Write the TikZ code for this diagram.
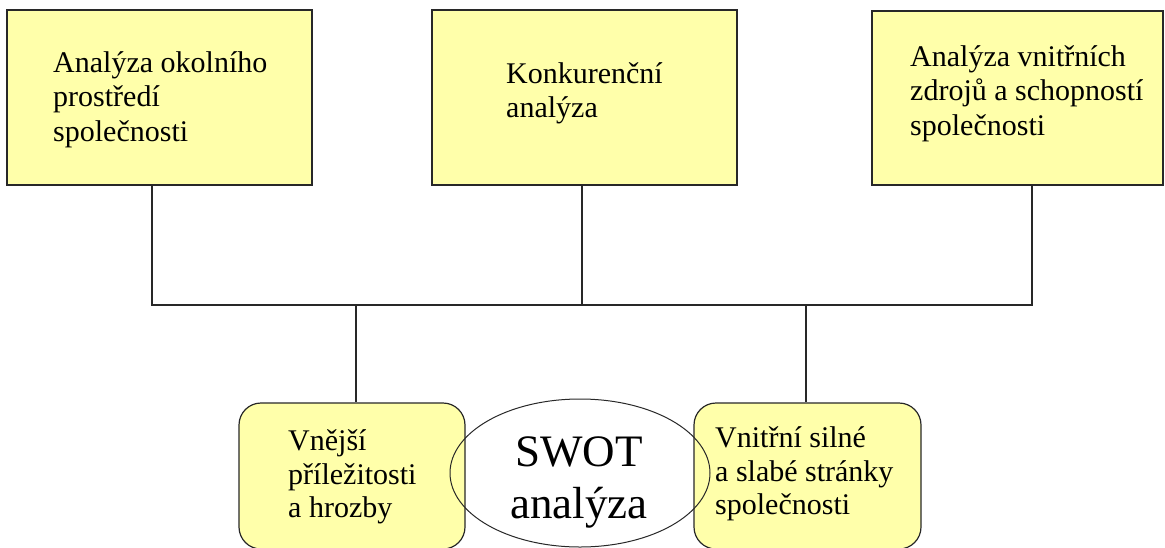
\documentclass[tikz,border=0pt]{standalone}
\usepackage{fontspec}
\setmainfont{Liberation Serif}
\usetikzlibrary{shapes.geometric}
\definecolor{boxfill}{RGB}{255,255,170}
\definecolor{edge}{RGB}{40,40,40}
\tikzset{
  topbox/.style={draw=edge, line width=1.5pt, fill=boxfill, rectangle, inner sep=0pt},
  roundbox/.style={draw=edge, line width=1.2pt, fill=boxfill, rectangle, rounded corners=22pt, inner sep=0pt},
  swotshape/.style={draw=edge, line width=1pt, ellipse, inner sep=0pt, minimum width=260pt, minimum height=148pt},
  wire/.style={draw=edge, line width=1.5pt},
  txt/.style={anchor=north west, inner sep=0pt, align=left, font=\fontsize{30}{34.5}\selectfont},
  btxt/.style={anchor=north west, inner sep=0pt, align=left, font=\fontsize{30}{33.8}\selectfont},
  bigtxt/.style={anchor=north, inner sep=0pt, align=center, font=\fontsize{45}{52}\selectfont}
}
\newcommand{\topstrut}[1]{\rule{0pt}{#1}}
\begin{document}
\begin{tikzpicture}[x=1pt, y=-1pt]
\useasboundingbox (0,0) rectangle (1165,547);
\begin{scope}
\clip (0,0) rectangle (1165,547);
% top boxes
\node[topbox, minimum width=305pt, minimum height=175pt] (b1) at (159.5,97.5) {};
\node[topbox, minimum width=305pt, minimum height=175pt] (b2) at (584.5,97.5) {};
\node[topbox, minimum width=291pt, minimum height=174pt] (b3) at (1017.5,98) {};
% bottom boxes
\node[roundbox, minimum width=226pt, minimum height=146pt] (o) at (352,476) {};
\node[roundbox, minimum width=227pt, minimum height=146pt] (s) at (807.5,476) {};
% bus coordinates
\coordinate (j1) at (152,305);
\coordinate (j2) at (582,305);
\coordinate (j3) at (1032,305);
\coordinate (k1) at (356,305);
\coordinate (k2) at (806,305);
\draw[wire] (b1.south -| j1) -- (j1) -- (j3) -- (b3.south -| j3);
\draw[wire] (b2.south -| j2) -- (j2);
\draw[wire] (k1) -- (o.north -| k1);
\draw[wire] (k2) -- (s.north -| k2);
% ellipse
\node[swotshape] (sw) at (580,473) {};
% texts
\node[txt] (t1) at (53,48) {\topstrut{24pt}Analýza okolního\\prostředí\\společnosti};
\node[txt] (t2) at (506,59) {\topstrut{24pt}Konkurenční\\analýza};
\node[txt] (t3) at (910,42) {\topstrut{24pt}Analýza vnitřních\\zdrojů a schopností\\společnosti};
\node[btxt] (t4) at (288,426) {\topstrut{24pt}Vnější\\příležitosti\\a hrozby};
\node[btxt] (t5) at (715,423) {\topstrut{24pt}Vnitřní silné\\a slabé stránky\\společnosti};
\node[bigtxt] (t6) at (579,430) {\topstrut{36pt}SWOT\\analýza};
\end{scope}
\end{tikzpicture}
\end{document}
